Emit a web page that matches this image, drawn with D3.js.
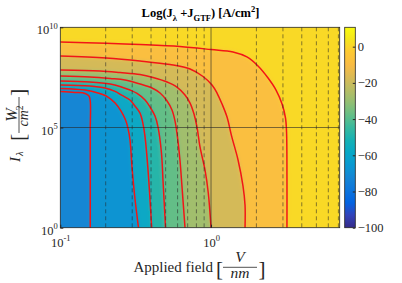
<!DOCTYPE html>
<html>
<head>
<meta charset="utf-8">
<script src="https://cdn.jsdelivr.net/npm/d3@7"></script>
<style>
  body { margin: 0; background: #fff; }
  svg { display: block; font-family: "Liberation Serif", "Times New Roman", serif; }
</style>
</head>
<body>
<div id="chart"></div>
<script>
// contour levels (red lines), top one first
const levels = [0, -10, -20, -30, -40, -50, -60, -70];
// fill value of each band: above level 0, then below each level
const bandValues = [1, -8, -18, -28, -38, -48, -58, -67, -72];

// contour points: [field in V/nm, log10 of intensity in W/cm2]
const c0 = [[0.1,9.27],[0.201,9.20],[0.338,9.14],[0.622,9.04],[1.0,8.89],[1.40,8.77],[1.73,8.52],[2.05,8.07],[2.39,7.47],[2.70,6.87],[2.96,6.17],[3.12,5.47],[3.17,4.78],[3.19,2.5],[3.19,0]];
const c10 = [[0.1,8.57],[0.201,8.47],[0.338,8.32],[0.535,8.14],[0.726,7.92],[0.885,7.545],[1.015,7.12],[1.096,6.72],[1.183,6.17],[1.277,5.52],[1.368,4.58],[1.511,3.38],[1.63,2.08],[1.681,1.13],[1.681,0]];
const c20 = [[0.1,7.87],[0.183,7.82],[0.249,7.74],[0.338,7.64],[0.412,7.495],[0.511,7.27],[0.594,7.02],[0.672,6.62],[0.726,6.22],[0.771,5.67],[0.807,5.02],[0.845,4.03],[0.912,2.88],[0.959,1.73],[1.0,0]];
const c30 = [[0.1,7.57],[0.157,7.52],[0.214,7.445],[0.269,7.37],[0.338,7.17],[0.406,6.97],[0.459,6.72],[0.511,6.32],[0.551,5.87],[0.577,5.32],[0.594,4.73],[0.622,3.38],[0.642,2.03],[0.672,0]];
const c40 = [[0.1,7.32],[0.157,7.27],[0.214,7.17],[0.249,7.05],[0.290,6.87],[0.323,6.70],[0.365,6.37],[0.394,6.02],[0.425,5.57],[0.445,5.02],[0.469,3.73],[0.480,2.38],[0.499,0]];
const c50 = [[0.1,7.12],[0.157,7.07],[0.198,6.97],[0.231,6.80],[0.257,6.60],[0.290,6.37],[0.313,6.07],[0.338,5.72],[0.354,5.17],[0.365,4.53],[0.382,2.88],[0.404,0]];
const c60 = [[0.1,6.95],[0.146,6.87],[0.178,6.72],[0.207,6.52],[0.231,6.22],[0.253,5.82],[0.271,5.37],[0.281,4.97],[0.290,4.38],[0.299,3.03],[0.311,1.63],[0.330,0]];
const c70 = [[0.1,6.80],[0.125,6.75],[0.146,6.70],[0.155,6.57],[0.158,6.32],[0.158,4.87],[0.158,0]];
const contours = [c0, c10, c20, c30, c40, c50, c60, c70];

const xMajor = [0.1, 1];
const xMinor = [0.2, 0.3, 0.4, 0.5, 0.6, 0.7, 0.8, 0.9, 2, 3, 4, 5, 6, 7];
const yMajor = [1, 1e5, 1e10];
const cbTicks = [0, -20, -40, -60, -80, -100];
const xMax = 7.14, cMin = -100, cMax = 10.7;

const parula = ["#352a87","#3243ba","#0363e1","#0d75dc","#1485d4","#0998d1","#06a7c6","#15b1b4",
  "#38b99e","#65be86","#92bf73","#b7bd64","#d9ba56","#f8bb44","#fec832","#f5e41d","#f9fb0e"];

// --- setup ---
const W = 402, H = 283;
const plot = { left: 60.3, top: 27.3, right: 339.7, bottom: 227.7 };
const ink = "#262626";

const x = d3.scaleLog().domain([0.1, xMax]).range([plot.left, plot.right]);
const y = d3.scaleLog().domain([1, 1e10]).range([plot.bottom, plot.top]);
const cmap = d3.piecewise(d3.interpolateRgb, parula);
const cNorm = d3.scaleLinear().domain([cMin, cMax]).range([0, 1]);
const color = v => cmap(cNorm(v));

const svg = d3.select("#chart").append("svg").attr("width", W).attr("height", H);
const defs = svg.append("defs");
defs.append("clipPath").attr("id", "plotClip").append("rect")
  .attr("x", plot.left).attr("y", plot.top)
  .attr("width", plot.right - plot.left).attr("height", plot.bottom - plot.top);
defs.append("filter").attr("id", "soft")
  .attr("filterUnits", "userSpaceOnUse").attr("x", 0).attr("y", 0).attr("width", W).attr("height", H)
  .append("feGaussianBlur").attr("stdDeviation", 2);

const toPx = pts => pts.map(([f, p]) => [x(f), y(Math.pow(10, p))]);
const smooth = d3.line().curve(d3.curveCatmullRom.alpha(0.5));

// filled bands
const fillG = svg.append("g").attr("clip-path", "url(#plotClip)")
  .append("g").attr("filter", "url(#soft)");
fillG.append("rect")
  .attr("x", plot.left - 20).attr("y", plot.top - 20)
  .attr("width", plot.right - plot.left + 40).attr("height", plot.bottom - plot.top + 40)
  .attr("fill", color(bandValues[0]));

contours.forEach((c, i) => {
  const px = toPx(c);
  const first = px[0], last = px[px.length - 1];
  const d = `M${first[0] - 25},${first[1]}L` + smooth(px).slice(1) +
    `L${last[0]},${last[1] + 25}L${plot.left - 25},${plot.bottom + 25}Z`;
  fillG.append("path").attr("d", d).attr("fill", color(bandValues[i + 1]));
});

// red contour lines
const lineG = svg.append("g").attr("clip-path", "url(#plotClip)");
lineG.selectAll("path.contour")
  .data(contours)
  .enter().append("path")
  .attr("class", "contour")
  .attr("d", c => smooth(toPx(c)))
  .attr("fill", "none")
  .attr("stroke", "#f21616")
  .attr("stroke-width", 1.5);

// grid (on top, like MATLAB layer top)
const gridG = svg.append("g");
gridG.selectAll("line.minor")
  .data(xMinor).enter().append("line")
  .attr("x1", d => x(d)).attr("x2", d => x(d))
  .attr("y1", plot.top).attr("y2", plot.bottom)
  .attr("stroke", ink).attr("stroke-opacity", 0.55)
  .attr("stroke-width", 1).attr("stroke-dasharray", "4,3");
gridG.append("line")
  .attr("x1", x(1)).attr("x2", x(1)).attr("y1", plot.top).attr("y2", plot.bottom)
  .attr("stroke", ink).attr("stroke-opacity", 0.6).attr("stroke-width", 1);
gridG.append("line")
  .attr("x1", plot.left).attr("x2", plot.right).attr("y1", y(1e5)).attr("y2", y(1e5))
  .attr("stroke", ink).attr("stroke-opacity", 0.6).attr("stroke-width", 1);

svg.append("rect")
  .attr("x", plot.left).attr("y", plot.top)
  .attr("width", plot.right - plot.left).attr("height", plot.bottom - plot.top)
  .attr("fill", "none").attr("stroke", ink).attr("stroke-width", 0.8);

// power-of-ten labels
function powLabel(sel, baseY) {
  sel.each(function(d) {
    const e = Math.round(Math.log10(d));
    const t = d3.select(this).text(null)
      .attr("dy", null).attr("y", baseY)
      .attr("fill", ink).attr("font-size", 12.5)
      .attr("font-family", "Liberation Serif, serif");
    t.append("tspan").text("10");
    t.append("tspan").attr("dy", -5.5).attr("font-size", 8.5).text(e);
  });
}

const gx = svg.append("g").attr("transform", `translate(0,${plot.bottom})`)
  .call(d3.axisBottom(x).tickValues(xMajor).tickSizeInner(-3).tickSizeOuter(0).tickFormat(() => ""));
gx.select(".domain").remove();
gx.selectAll(".tick line").attr("stroke", ink);
powLabel(gx.selectAll(".tick text"), 19);

const gy = svg.append("g").attr("transform", `translate(${plot.left},0)`)
  .call(d3.axisLeft(y).tickValues(yMajor).tickSizeInner(-3).tickSizeOuter(0).tickFormat(() => ""));
gy.select(".domain").remove();
gy.selectAll(".tick line").attr("stroke", ink);
powLabel(gy.selectAll(".tick text"), 6.5);
gy.selectAll(".tick text").attr("x", -2.5);

// colorbar
const cb = { left: 344.7, right: 355.3 };
const cbScale = d3.scaleLinear().domain([cMin, cMax]).range([plot.bottom, plot.top]);
const grad = defs.append("linearGradient").attr("id", "cbGrad")
  .attr("x1", 0).attr("y1", 1).attr("x2", 0).attr("y2", 0);
grad.selectAll("stop").data(d3.range(0, 1.0001, 1 / 32)).enter().append("stop")
  .attr("offset", d => d).attr("stop-color", d => cmap(d));
svg.append("rect")
  .attr("x", cb.left).attr("y", plot.top)
  .attr("width", cb.right - cb.left).attr("height", plot.bottom - plot.top)
  .attr("fill", "url(#cbGrad)").attr("stroke", ink).attr("stroke-width", 0.8);
const gc = svg.append("g").attr("transform", `translate(${cb.right},0)`)
  .call(d3.axisRight(cbScale).tickValues(cbTicks).tickSizeInner(-2.5).tickSizeOuter(0));
gc.select(".domain").remove();
gc.selectAll(".tick line").attr("stroke", ink);
gc.selectAll(".tick text").attr("x", 2.5).attr("fill", ink)
  .attr("font-size", 12.5).attr("font-family", "Liberation Serif, serif");

// title
const title = svg.append("text").attr("x", 200.5).attr("y", 16.7)
  .attr("text-anchor", "middle").attr("font-weight", "bold").attr("font-size", 12.5).attr("fill", "#000");
title.append("tspan").text("Log(J");
title.append("tspan").attr("dy", 4).attr("font-size", 8.5).text("λ");
title.append("tspan").attr("dy", -4).text(" +J");
title.append("tspan").attr("dy", 4).attr("font-size", 8.5).text("GTF");
title.append("tspan").attr("dy", -4).text(") [A/cm");
title.append("tspan").attr("dy", -5).attr("font-size", 8.5).text("2");
title.append("tspan").attr("dy", 5).text("]");

// x label: Applied field [V/nm]
const xl = svg.append("g").attr("fill", ink);
xl.append("text").attr("x", 213).attr("y", 272).attr("text-anchor", "end")
  .attr("font-size", 15).text("Applied field");
xl.append("text").attr("x", 216).attr("y", 275.5).attr("font-size", 21).text("[");
xl.append("line").attr("x1", 223).attr("x2", 257).attr("y1", 267.3).attr("y2", 267.3)
  .attr("stroke", ink).attr("stroke-width", 0.8);
xl.append("text").attr("x", 240).attr("y", 262).attr("text-anchor", "middle")
  .attr("font-size", 15.5).attr("font-style", "italic").text("V");
xl.append("text").attr("x", 240).attr("y", 277.5).attr("text-anchor", "middle")
  .attr("font-size", 15.5).attr("font-style", "italic").text("nm");
xl.append("text").attr("x", 258.5).attr("y", 275.5).attr("font-size", 21).text("]");

// y label: I_lambda [W/cm^2], rotated
const yl = svg.append("g").attr("fill", ink).attr("transform", "translate(19.5,125) rotate(-90)");
yl.append("text").attr("x", -37).attr("y", 0).attr("font-size", 15).attr("font-style", "italic").text("I");
yl.append("text").attr("x", -31).attr("y", 3).attr("font-size", 10.5).attr("font-style", "italic").text("λ");
yl.append("text").attr("x", -16).attr("y", 5).attr("font-size", 22).text("[");
yl.append("line").attr("x1", -8).attr("x2", 28).attr("y1", -0.5).attr("y2", -0.5)
  .attr("stroke", ink).attr("stroke-width", 0.8);
yl.append("text").attr("x", 10).attr("y", -2.5).attr("text-anchor", "middle")
  .attr("font-size", 16).attr("font-style", "italic").text("W");
const cm = yl.append("text").attr("x", 9).attr("y", 8.5).attr("text-anchor", "middle")
  .attr("font-size", 14).attr("font-style", "italic");
cm.append("tspan").text("cm");
cm.append("tspan").attr("dy", -5).attr("font-size", 9.5).attr("font-style", "normal").text("2");
yl.append("text").attr("x", 29).attr("y", 5).attr("font-size", 22).text("]");
</script>
</body>
</html>
